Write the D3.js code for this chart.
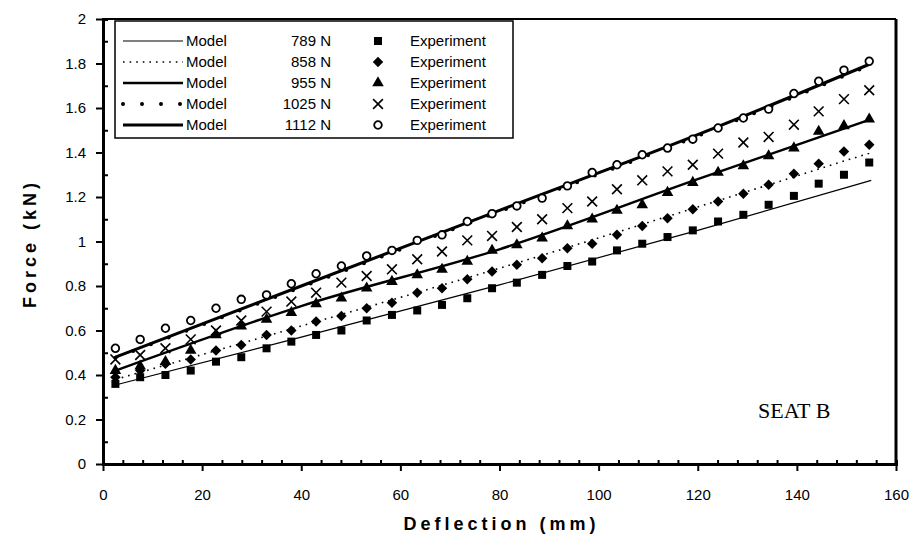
<!DOCTYPE html>
<html>
<head>
<meta charset="utf-8">
<script src="https://cdn.jsdelivr.net/npm/d3@7"></script>
<style>
body { margin: 0; background: #fff; }
svg { display: block; font-family: Arial, "Liberation Sans", sans-serif; }
</style>
</head>
<body>
<svg id="chart" width="916" height="547"></svg>
<script>
// deflection (mm) of the measured points
const expX = [2.5, 7.5, 12.6, 17.7, 22.8, 27.9, 33, 38, 43, 48.1, 53.2, 58.3, 63.4, 68.4, 73.5, 78.5,
    83.5, 88.6, 93.7, 98.7, 103.7, 108.8, 113.9, 119, 124.1, 129.2, 134.3, 139.4, 144.4, 149.5, 154.6];

// measured force (kN), one list per load
const exp789 = [0.36, 0.39, 0.40, 0.42, 0.46, 0.48, 0.52, 0.55, 0.58, 0.60, 0.645, 0.67, 0.69, 0.715, 0.745, 0.79,
    0.815, 0.85, 0.89, 0.91, 0.96, 0.99, 1.02, 1.05, 1.09, 1.12, 1.165, 1.205, 1.26, 1.30, 1.355];
const exp858 = [0.39, 0.42, 0.45, 0.47, 0.51, 0.535, 0.58, 0.60, 0.64, 0.665, 0.70, 0.725, 0.77, 0.79, 0.83, 0.865,
    0.895, 0.925, 0.97, 0.99, 1.03, 1.07, 1.105, 1.145, 1.18, 1.215, 1.255, 1.305, 1.35, 1.405, 1.435];
const exp955 = [0.42, 0.44, 0.46, 0.51, 0.58, 0.62, 0.65, 0.68, 0.72, 0.745, 0.79, 0.82, 0.85, 0.875, 0.91, 0.96,
    0.985, 1.015, 1.07, 1.10, 1.14, 1.165, 1.22, 1.265, 1.31, 1.34, 1.385, 1.42, 1.495, 1.52, 1.55];
const exp1025 = [0.47, 0.49, 0.52, 0.56, 0.60, 0.645, 0.685, 0.73, 0.77, 0.815, 0.845, 0.875, 0.92, 0.955, 1.005, 1.025,
    1.065, 1.10, 1.15, 1.18, 1.235, 1.275, 1.315, 1.345, 1.395, 1.445, 1.47, 1.525, 1.585, 1.64, 1.68];
const exp1112 = [0.52, 0.56, 0.61, 0.645, 0.70, 0.74, 0.76, 0.81, 0.855, 0.89, 0.935, 0.96, 1.005, 1.03, 1.09, 1.125,
    1.16, 1.195, 1.25, 1.31, 1.345, 1.39, 1.42, 1.46, 1.51, 1.555, 1.595, 1.665, 1.72, 1.77, 1.81];

// model curves
const modelX = [2.5, 40, 80, 120, 155];
const model789 = [0.355, 0.57, 0.805, 1.05, 1.275];
const model858 = [0.38, 0.62, 0.88, 1.155, 1.40];
const model955 = [0.42, 0.71, 0.965, 1.28, 1.55];
const model1025 = [0.477, 0.795, 1.135, 1.475, 1.795];
const model1112 = [0.48, 0.80, 1.14, 1.48, 1.80];

const loads = ["789 N", "858 N", "955 N", "1025 N", "1112 N"];
const xTicks = [0, 20, 40, 60, 80, 100, 120, 140, 160];
const yTicks = [0, 0.2, 0.4, 0.6, 0.8, 1, 1.2, 1.4, 1.6, 1.8, 2];

const series = [
    { load: loads[0], exp: exp789, model: model789, sym: "square", line: { w: 1.2, dash: null } },
    { load: loads[1], exp: exp858, model: model858, sym: "diamond", line: { w: 1.6, dash: "1.6,5" } },
    { load: loads[2], exp: exp955, model: model955, sym: "triangle", line: { w: 2.4, dash: null } },
    { load: loads[3], exp: exp1025, model: model1025, sym: "cross", line: { w: 4, dash: "0,19", cap: "round" } },
    { load: loads[4], exp: exp1112, model: model1112, sym: "circle", line: { w: 3, dash: null } }
];

const margin = { top: 19, right: 20, bottom: 83, left: 103 };
const width = 916, height = 547;
const svg = d3.select("#chart");

const x = d3.scaleLinear().domain([0, 160]).range([margin.left, width - margin.right]);
const y = d3.scaleLinear().domain([0, 2]).range([height - margin.bottom, margin.top]);

const symbolOf = {
    square: d3.symbol().type(d3.symbolSquare).size(64),
    diamond: d3.symbol().type(d3.symbolDiamond2).size(70),
    triangle: d3.symbol().type(d3.symbolTriangle).size(58),
    cross: d3.symbol().type(d3.symbolX).size(64),
    circle: d3.symbol().type(d3.symbolCircle).size(46)
};

function drawSymbol(g, type) {
    const p = g.append("path").attr("d", symbolOf[type]());
    if (type === "cross") p.attr("fill", "none").attr("stroke", "#000").attr("stroke-width", 1.6);
    else if (type === "circle") p.attr("fill", "#fff").attr("stroke", "#000").attr("stroke-width", 1.8);
    else p.attr("fill", "#000");
    return p;
}

// model lines
const line = d3.line().x(d => x(d[0])).y(d => y(d[1])).curve(d3.curveMonotoneX);
series.forEach(s => {
    svg.append("path")
        .datum(modelX.map((v, i) => [v, s.model[i]]))
        .attr("d", line)
        .attr("fill", "none")
        .attr("stroke", "#000")
        .attr("stroke-width", s.line.w)
        .attr("stroke-dasharray", s.line.dash)
        .attr("stroke-linecap", s.line.cap || "butt");
});

// experiment points
series.forEach(s => {
    const g = svg.append("g");
    expX.forEach((v, i) => {
        const m = g.append("g").attr("transform", `translate(${x(v)},${y(s.exp[i])})`);
        drawSymbol(m, s.sym);
    });
});

// axes
const xAxis = svg.append("g").attr("transform", `translate(0,${y(0)})`)
    .call(d3.axisBottom(x).tickValues(xTicks).tickSizeInner(7).tickSizeOuter(0).tickPadding(18));
const xMinor = svg.append("g").attr("transform", `translate(0,${y(0)})`)
    .call(d3.axisBottom(x).tickValues(d3.range(4, 160, 4).filter(v => v % 20 !== 0)).tickSize(-4).tickFormat(""));
const yAxis = svg.append("g").attr("transform", `translate(${x(0)},0)`)
    .call(d3.axisLeft(y).tickValues(yTicks).tickSizeInner(7).tickSizeOuter(0).tickPadding(10)
        .tickFormat(d3.format("~g")));
const yMinor = svg.append("g").attr("transform", `translate(${x(0)},0)`)
    .call(d3.axisLeft(y).tickValues([0.1, 0.3, 0.5, 0.7, 0.9, 1.1, 1.3, 1.5, 1.7, 1.9]).tickSize(-5).tickFormat(""));

[xAxis, yAxis, xMinor, yMinor].forEach(a => {
    a.select(".domain").attr("stroke", "#000").attr("stroke-width", 3);
    a.selectAll(".tick line").attr("stroke", "#000").attr("stroke-width", 2);
    a.selectAll("text").attr("font-size", 15).attr("fill", "#000")
        .attr("font-family", "Arial, 'Liberation Sans', sans-serif");
});

// frame: top and right
svg.append("line").attr("x1", x(0)).attr("x2", x(160)).attr("y1", y(2)).attr("y2", y(2))
    .attr("stroke", "#000").attr("stroke-width", 2);
svg.append("line").attr("x1", x(160)).attr("x2", x(160)).attr("y1", y(2)).attr("y2", y(0))
    .attr("stroke", "#000").attr("stroke-width", 3);

// axis titles
svg.append("text")
    .attr("x", x(80) + 2).attr("y", 530)
    .attr("text-anchor", "middle").attr("font-weight", "bold").attr("font-size", 18)
    .attr("letter-spacing", 4)
    .text("Deflection (mm)");
svg.append("text")
    .attr("transform", `translate(36,${y(1) + 2}) rotate(-90)`)
    .attr("text-anchor", "middle").attr("font-weight", "bold").attr("font-size", 18)
    .attr("letter-spacing", 4)
    .text("Force (kN)");

// annotation
svg.append("text")
    .attr("x", 758).attr("y", 418)
    .attr("font-family", "'Liberation Serif', 'Times New Roman', serif")
    .attr("font-size", 22)
    .text("SEAT B");

// legend
const legend = svg.append("g");
legend.append("rect").attr("x", 115).attr("y", 21).attr("width", 398).attr("height", 117)
    .attr("fill", "#fff").attr("stroke", "#000").attr("stroke-width", 1.5);
series.forEach((s, i) => {
    const ry = 41 + i * 21;
    legend.append("line").attr("x1", 123).attr("x2", 183).attr("y1", ry).attr("y2", ry)
        .attr("stroke", "#000").attr("stroke-width", s.line.w)
        .attr("stroke-dasharray", s.line.dash).attr("stroke-linecap", s.line.cap || "butt");
    legend.append("text").attr("x", 186).attr("y", ry + 5).attr("font-size", 15).text("Model");
    legend.append("text").attr("x", 331).attr("y", ry + 5).attr("font-size", 15)
        .attr("text-anchor", "end").text(s.load);
    const m = legend.append("g").attr("transform", `translate(378,${ry})`);
    drawSymbol(m, s.sym);
    legend.append("text").attr("x", 410).attr("y", ry + 5).attr("font-size", 15).text("Experiment");
});
</script>
</body>
</html>
